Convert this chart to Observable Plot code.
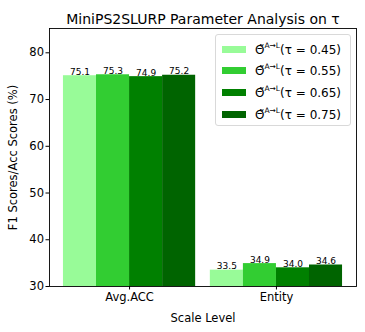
<!DOCTYPE html>
<html>
<head>
<meta charset="utf-8">
<script src="https://cdn.jsdelivr.net/npm/d3@7"></script>
<script src="https://cdn.jsdelivr.net/npm/@observablehq/plot@0.6"></script>
<style>
  html, body { margin: 0; padding: 0; background: #fff; }
  #wrap { position: relative; width: 365px; height: 332px; font-family: "DejaVu Sans", sans-serif; }
  #wrap svg, #wrap svg text { font-family: "DejaVu Sans", sans-serif !important; }
  #legend { position: absolute; left: 215px; top: 34px; width: 136px; height: 92px; box-sizing: border-box;
    border: 1px solid #d9d9d9; border-radius: 3px; background: rgba(255,255,255,0.8); font-size: 12px; color: #000; }
  .row { position: absolute; left: 6px; height: 20px; display: flex; align-items: center; }
  .sw { width: 24px; height: 7px; margin-right: 9px; }
  .lbl { white-space: nowrap; }
  .lbl sup { font-size: 7.5px; position: relative; top: -1px; }
</style>
</head>
<body>
<div id="wrap"></div>
<script>
const categories = ["Avg.ACC", "Entity"];
const taus = [0.45, 0.55, 0.65, 0.75];
const colors = ["#98FB98", "#32CD32", "#008000", "#006400"];
const avgAcc = [75.1, 75.3, 74.9, 75.2];
const entity = [33.5, 34.9, 34.0, 34.6];
const yTicks = [30, 40, 50, 60, 70, 80];

const series = [avgAcc, entity];
const barW = 0.225;
const rows = [];
categories.forEach((c, ci) => {
  taus.forEach((t, k) => {
    const center = ci + (k - 1.5) * barW;
    rows.push({cat: c, tau: t, k, value: series[ci][k], x1: center - barW / 2, x2: center + barW / 2, xc: center});
  });
});

const chart = Plot.plot({
  width: 365,
  height: 332,
  marginLeft: 49,
  marginRight: 9,
  marginTop: 28,
  marginBottom: 46,
  style: {fontFamily: "'DejaVu Sans', sans-serif", fontSize: "11px", color: "#000", background: "#fff"},
  x: {domain: [-0.545, 1.545], ticks: [0, 1], tickFormat: i => categories[i], label: null},
  y: {domain: [30, 85.2], ticks: yTicks, label: null},
  color: {domain: taus, range: colors},
  marks: [
    Plot.rectY(rows, {x1: "x1", x2: "x2", y1: 0, y2: "value", fill: d => d.tau, clip: true}),
    Plot.text(rows, {x: "xc", y: "value", text: d => d.value.toFixed(1), lineAnchor: "bottom", dy: -1, fontSize: 9}),
    Plot.frame({stroke: "#000", strokeWidth: 0.9}),
    Plot.axisY({ticks: yTicks, tickSize: 3.5, tickPadding: 2, fontSize: 11.5, label: null}),
    Plot.axisX({ticks: [0, 1], tickFormat: i => categories[i], tickSize: 3.5, tickPadding: 3, fontSize: 11.5, label: null}),
    Plot.text(["Scale Level"], {frameAnchor: "bottom", dy: 35, fontSize: 11.5}),
    Plot.text(["F1 Scores/Acc Scores (%)"], {frameAnchor: "left", textAnchor: "middle", rotate: -90, dx: -36, dy: 0, fontSize: 11.5}),
    Plot.text(["MiniPS2SLURP Parameter Analysis on τ"], {frameAnchor: "top", dy: -14, fontSize: 14})
  ]
});

const wrap = document.getElementById("wrap");
wrap.appendChild(chart);

const legend = document.createElement("div");
legend.id = "legend";
taus.forEach((t, k) => {
  const r = document.createElement("div");
  r.className = "row";
  r.style.top = (4 + k * 21.7) + "px";
  r.innerHTML = `<div class="sw" style="background:${colors[k]}"></div><span class="lbl">\u0398\u0303<sup>A\u2192L</sup>(\u03C4 = ${t.toFixed(2)})</span>`;
  legend.appendChild(r);
});
wrap.appendChild(legend);
</script>
</body>
</html>
